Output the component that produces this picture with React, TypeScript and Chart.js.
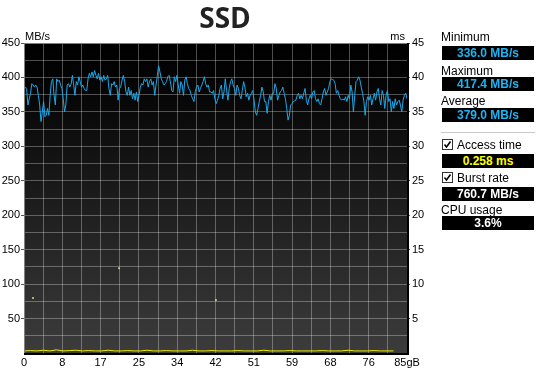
import React, { useEffect, useRef } from "react";
import { Chart, registerables } from "chart.js";

Chart.register(...registerables);

const TITLE = "SSD";
const X_MAX_GB = 85;
const Y_MAX_MBS = 450;
const Y_MAX_MS = 45;

// transfer rate (MB/s) read across the test
const transferRate = [
  381, 386, 384, 360, 369, 377, 391, 389, 386, 389, 386, 374, 360, 336, 350, 365, 343, 345, 355, 345, 374, 394, 398, 374,
  360, 398, 394, 396, 389, 384, 369, 350, 360, 389, 391, 386, 390, 403, 389, 374, 394, 389, 401, 394, 386, 389, 384, 381,
  381, 398, 406, 401, 408, 401, 410, 403, 398, 406, 396, 401, 394, 403, 396, 398, 403, 384, 374, 391, 389, 394, 386, 389,
  367, 384, 386, 396, 403, 394, 379, 374, 386, 374, 381, 369, 377, 367, 379, 365, 374, 386, 391, 389, 398,
  394, 398, 386, 394, 398, 389, 394, 374, 389, 403, 417, 408, 398, 394, 389, 391, 394, 401, 403, 394, 381, 379, 401, 394,
  403, 389, 377, 394, 389, 374, 396, 401, 391, 384, 381, 374, 369, 365, 379, 386, 389, 379, 384, 389, 394, 401, 391, 386,
  389, 379,
  379, 377, 381, 369, 362, 367, 374, 384, 389, 369, 379, 398, 381, 367, 384, 394, 398, 389, 384, 374, 389, 384, 374, 369,
  381, 394, 386, 372, 377, 367, 374, 377, 381, 367, 350, 345, 355, 365, 374, 386, 379, 365, 365, 348, 365, 374, 367, 377,
  377,
  391, 384, 367, 374, 379, 381, 386, 377, 369, 355, 338, 345, 360, 362, 365, 366, 367, 374, 377, 369, 374, 369, 377, 384,
  367, 360, 369, 374, 369, 379, 381, 369, 365, 369, 362, 360, 369, 379, 384, 374, 379, 384, 394, 398, 397, 396, 391, 377,
  381, 374, 369, 367, 369, 367, 372, 365, 374, 369, 389, 379, 350, 374, 394, 396, 401, 396, 386, 377, 365, 345, 365, 372,
  367, 374, 360, 369, 377, 367, 379, 384, 369, 360, 381, 374, 355, 374, 381, 365, 369, 350, 365, 355, 369, 360, 365, 367,
  360, 350, 367, 374, 377, 369,
];

// access time (ms) along the test
const accessTime = [
  0.3, 0.35, 0.3, 0.4, 0.3, 0.45, 0.3, 0.35, 0.4, 0.3, 0.35, 0.3, 0.3, 0.4, 0.3, 0.3, 0.35, 0.3, 0.3, 0.4,
  0.3, 0.3, 0.35, 0.3, 0.3, 0.3, 0.4, 0.3, 0.3, 0.35, 0.3, 0.3, 0.3, 0.35, 0.3, 0.3, 0.3, 0.4, 0.3, 0.3,
  0.3, 0.35, 0.3, 0.3, 0.3, 0.3, 0.35, 0.3, 0.3, 0.3, 0.4, 0.3, 0.3, 0.3, 0.35, 0.3, 0.3, 0.3,
];
const accessSpanGB = 82;
const accessOutlierGB = [2.0, 21.1, 42.6];
const accessOutlierMs = [8.0, 12.3, 7.7];

const xTickLabels = ["0", "8", "17", "25", "34", "42", "51", "59", "68", "76", "85gB"];
const statLabels = ["Minimum", "Maximum", "Average"];
const statValues = ["336.0 MB/s", "417.4 MB/s", "379.0 MB/s"];
const accessTimeText = "0.258 ms";
const burstRateText = "760.7 MB/s";
const cpuUsageText = "3.6%";

const TICK_FONT = { family: "'Liberation Sans', Arial, sans-serif", size: 11 };
const GRID = "rgba(255,255,255,0.3)";

const bgPlugin = {
  id: "bg",
  beforeDraw(chart: any) {
    const { ctx, chartArea: a } = chart;
    const g = ctx.createLinearGradient(0, a.top, 0, a.bottom);
    g.addColorStop(0, "#000000");
    g.addColorStop(0.15, "#050505");
    g.addColorStop(1, "#3c3c3c");
    ctx.save();
    ctx.fillStyle = g;
    ctx.fillRect(a.left, a.top, a.right - a.left, a.bottom - a.top);
    ctx.restore();
  },
  afterDraw(chart: any) {
    const { ctx, chartArea: a } = chart;
    ctx.save();
    ctx.strokeStyle = "#000";
    ctx.lineWidth = 2;
    ctx.beginPath();
    ctx.moveTo(a.left, a.bottom + 1);
    ctx.lineTo(a.right + 1, a.bottom + 1);
    ctx.lineTo(a.right + 1, a.top);
    ctx.stroke();
    ctx.strokeStyle = "#808080";
    ctx.lineWidth = 1;
    ctx.beginPath();
    ctx.moveTo(a.left + 0.5, a.bottom);
    ctx.lineTo(a.left + 0.5, a.top + 0.5);
    ctx.lineTo(a.right, a.top + 0.5);
    ctx.stroke();
    ctx.fillStyle = "#222";
    ctx.font = "bold 28px 'Open Sans', sans-serif";
    ctx.textAlign = "center";
    ctx.textBaseline = "alphabetic";
    ctx.fillText(TITLE, 225, 28);
    ctx.fillStyle = "#000";
    ctx.font = "11px 'Liberation Sans', Arial, sans-serif";
    ctx.textAlign = "left";
    ctx.fillText("MB/s", a.left + 1, a.top - 3);
    ctx.textAlign = "right";
    ctx.fillText("ms", a.right - 2, a.top - 3);
    ctx.restore();
  },
};

function ChartCanvas() {
  const ref = useRef<HTMLCanvasElement>(null);
  useEffect(() => {
    const n = transferRate.length;
    const rate = transferRate.map((v, i) => ({ x: (i * X_MAX_GB) / (n - 1), y: v }));
    const m = accessTime.length;
    const acc = accessTime.map((v, i) => ({ x: (i * accessSpanGB) / (m - 1), y: v }));
    const outl = accessOutlierGB.map((x, i) => ({ x, y: accessOutlierMs[i] }));
    const chart = new Chart(ref.current as HTMLCanvasElement, {
      type: "line",
      data: {
        datasets: [
          {
            data: acc,
            yAxisID: "y1",
            borderColor: "#f0f000",
            borderWidth: 1,
            pointRadius: 0,
            tension: 0,
          },
          {
            type: "scatter",
            data: outl,
            yAxisID: "y1",
            backgroundColor: "#d8d890",
            borderColor: "#d8d890",
            pointRadius: 1,
            pointBorderWidth: 0,
          } as any,
          {
            data: rate,
            yAxisID: "y",
            borderColor: "#1aa8e8",
            borderWidth: 1,
            pointRadius: 0,
            tension: 0,
          },
        ],
      },
      options: {
        responsive: false,
        animation: false,
        parsing: false as any,
        layout: { padding: { left: 0, right: 108, top: 43, bottom: 0 } },
        plugins: { legend: { display: false }, tooltip: { enabled: false }, title: { display: false } },
        scales: {
          x: {
            type: "linear",
            min: 0,
            max: X_MAX_GB,
            afterBuildTicks: (s: any) => {
              s.ticks = Array.from({ length: 21 }, (_, i) => ({ value: (i * X_MAX_GB) / 20 }));
            },
            afterFit: (s: any) => {
              s.height = 29;
            },
            ticks: {
              autoSkip: false,
              maxRotation: 0,
              padding: 3,
              color: "#000",
              font: TICK_FONT,
              callback: (_v: any, i: number) => (i % 2 === 0 ? xTickLabels[i / 2] : ""),
            },
            grid: { color: GRID, drawTicks: false },
            border: { display: false },
          },
          y: {
            position: "left",
            min: 0,
            max: Y_MAX_MBS,
            afterBuildTicks: (s: any) => {
              s.ticks = Array.from({ length: 19 }, (_, i) => ({ value: i * 25 }));
            },
            afterFit: (s: any) => {
              s.width = 24;
            },
            ticks: {
              autoSkip: false,
              padding: 1,
              color: "#000",
              font: TICK_FONT,
              callback: (v: any) => (v % 50 === 0 && v > 0 ? String(v) : ""),
            },
            grid: {
              color: GRID,
              tickLength: 3,
              tickColor: (c: any) => (c.tick && c.tick.value % 50 === 0 && c.tick.value > 0 ? "#555" : "rgba(0,0,0,0)"),
            },
            border: { display: false },
          },
          y1: {
            position: "right",
            min: 0,
            max: Y_MAX_MS,
            afterBuildTicks: (s: any) => {
              s.ticks = Array.from({ length: 10 }, (_, i) => ({ value: i * 5 }));
            },
            afterFit: (s: any) => {
              s.width = 30;
            },
            ticks: {
              autoSkip: false,
              padding: 2,
              color: "#000",
              font: TICK_FONT,
              callback: (v: any) => (v > 0 ? String(v) : ""),
            },
            grid: {
              drawOnChartArea: false,
              tickLength: 3,
              tickColor: (c: any) => (c.tick && c.tick.value > 0 ? "#555" : "rgba(0,0,0,0)"),
            },
            border: { display: false },
          },
        },
      },
      plugins: [bgPlugin],
    });
    return () => chart.destroy();
  }, []);
  return <canvas ref={ref} width={545} height={382} style={{ position: "absolute", left: 0, top: 0 }} />;
}

const labelStyle = (top: number, left = 441): React.CSSProperties => ({
  position: "absolute",
  left,
  top,
  height: 14,
  lineHeight: "14px",
  fontFamily: "'Liberation Sans', Arial, sans-serif",
  fontSize: 12,
  color: "#000",
  whiteSpace: "nowrap",
});

function ValueBox({ top, text, color }: { top: number; text: string; color: string }) {
  return (
    <div
      style={{
        position: "absolute",
        left: 442,
        top,
        width: 92,
        height: 14,
        background: "#000",
        color,
        fontFamily: "'Liberation Sans', Arial, sans-serif",
        fontWeight: "bold",
        fontSize: 12,
        lineHeight: "14px",
        textAlign: "center",
        whiteSpace: "nowrap",
      }}
    >
      {text}
    </div>
  );
}

function CheckBox({ top }: { top: number }) {
  return (
    <svg width={11} height={11} style={{ position: "absolute", left: 442, top }}>
      <rect x={0.5} y={0.5} width={10} height={10} fill="#fff" stroke="#333" />
      <polyline points="2.5,5.5 4.5,8 8.5,2.5" fill="none" stroke="#000" strokeWidth={1.6} />
    </svg>
  );
}

export default function App() {
  const statTops = [30, 64, 94];
  const boxTops = [46, 77, 108];
  return (
    <div style={{ position: "absolute", left: 0, top: 0, width: 545, height: 382, background: "#fff", overflow: "hidden" }}>
      <ChartCanvas />
      {statLabels.map((l, i) => (
        <React.Fragment key={l}>
          <div style={labelStyle(statTops[i])}>{l}</div>
          <ValueBox top={boxTops[i]} text={statValues[i]} color="#1cb4f4" />
        </React.Fragment>
      ))}
      <div style={{ position: "absolute", left: 441, top: 132, width: 94, height: 1, background: "#c8c8c8" }} />
      <CheckBox top={139} />
      <div style={labelStyle(138, 457)}>Access time</div>
      <ValueBox top={154} text={accessTimeText} color="#ffff00" />
      <CheckBox top={172} />
      <div style={labelStyle(171, 457)}>Burst rate</div>
      <ValueBox top={187} text={burstRateText} color="#ffffff" />
      <div style={labelStyle(203)}>CPU usage</div>
      <ValueBox top={216} text={cpuUsageText} color="#ffffff" />
    </div>
  );
}
